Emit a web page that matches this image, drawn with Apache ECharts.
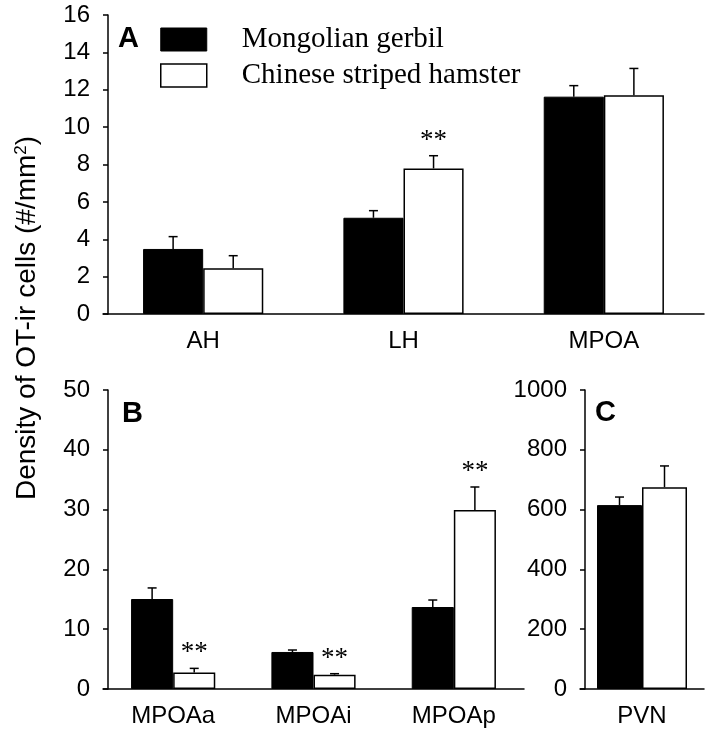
<!DOCTYPE html>
<html><head><meta charset="utf-8">
<script src="https://cdn.jsdelivr.net/npm/echarts@6/dist/echarts.min.js"></script>
<style>html,body{margin:0;padding:0;background:#fff}#c{width:710px;height:736px}</style>
</head><body><div id="c"></div>
<script>
// Panel A
const catsA = ["AH", "LH", "MPOA"];
const gerbilA = [3.48, 5.15, 11.63];
const gerbilAErr = [0.66, 0.38, 0.59];
const hamsterA = [2.45, 7.79, 11.70];
const hamsterAErr = [0.67, 0.68, 1.44];
const sigGerbilA = ["", "", ""];
const sigHamsterA = ["", "**", ""];
// Panel B
const catsB = ["MPOAa", "MPOAi", "MPOAp"];
const gerbilB = [15.05, 6.19, 13.71];
const gerbilBErr = [1.85, 0.33, 1.17];
const hamsterB = [2.78, 2.40, 29.93];
const hamsterBErr = [0.67, 0.16, 3.85];
const sigGerbilB = ["", "", ""];
const sigHamsterB = ["**", "**", "**"];
// Panel C
const catsC = ["PVN"];
const gerbilC = [615];
const gerbilCErr = [27];
const hamsterC = [675];
const hamsterCErr = [71];
const sigGerbilC = [""];
const sigHamsterC = [""];
// axis ranges
const yA = [0, 16, 2];
const yB = [0, 50, 10];
const yC = [0, 1000, 200];
const seriesNames = ["Mongolian gerbil", "Chinese striped hamster"];
const panelLetters = ["A", "B", "C"];
const yTitle = "Density of OT-ir cells (#/mm{sup|2})";

const chart = echarts.init(document.getElementById('c'));
const FONT = 'Arial, "Liberation Sans", sans-serif';

function xAxis(cats, gi) {
  return {type: 'category', gridIndex: gi, data: cats,
    axisLine: {lineStyle: {color: '#000', width: 1.5}},
    axisTick: {show: false},
    axisLabel: {color: '#000', fontSize: 24, fontFamily: FONT, margin: 15}};
}
function yAxis(r, gi) {
  return {type: 'value', gridIndex: gi, min: r[0], max: r[1], interval: r[2], offset: -5,
    axisLine: {show: true, lineStyle: {color: '#000', width: 1.5}},
    axisTick: {show: true, inside: false, length: 5, lineStyle: {color: '#000', width: 1.5}},
    splitLine: {show: false},
    axisLabel: {color: '#000', fontSize: 24, fontFamily: FONT, margin: 18, formatter: v => String(v)}};
}
function errRender(barW, side, sig) {
  return function (params, api) {
    const i = api.value(0), v = api.value(1), e = api.value(2);
    const base = api.coord([i, v]);
    const top = api.coord([i, v + e]);
    const bw = barW != null ? barW : api.size([1, 0])[0] * 0.3;
    const x = base[0] + side * bw / 2;
    const children = [
      {type: 'line', shape: {x1: x, y1: base[1], x2: x, y2: top[1]}, style: {stroke: '#000', lineWidth: 1.5}},
      {type: 'line', shape: {x1: x - 4.5, y1: top[1], x2: x + 4.5, y2: top[1]}, style: {stroke: '#000', lineWidth: 1.5}}
    ];
    const s = sig[params.dataIndex];
    if (s) children.push({type: 'text', style: {text: s, x: x, y: top[1] - 15, align: 'center', verticalAlign: 'middle',
      fontSize: 27, fontFamily: '"Liberation Serif", serif', fill: '#000'}});
    return {type: 'group', children: children};
  };
}
function errData(vals, errs) { return vals.map((v, i) => [i, v, errs[i]]); }

const blackStyle = {color: '#000', borderColor: '#000', borderWidth: 1};
const whiteStyle = {color: '#fff', borderColor: '#000', borderWidth: 1.5};

function panelSeries(gi, g, gE, h, hE, sg, sh, barW) {
  const common = {type: 'bar', xAxisIndex: gi, yAxisIndex: gi, barGap: '0%', barCategoryGap: '40%', animation: false};
  if (barW != null) common.barWidth = barW;
  return [
    Object.assign({}, common, {name: seriesNames[0], data: g, itemStyle: blackStyle}),
    Object.assign({}, common, {name: seriesNames[1], data: h, itemStyle: whiteStyle}),
    {type: 'custom', name: 'errG' + gi, xAxisIndex: gi, yAxisIndex: gi, z: 5, animation: false,
      renderItem: errRender(barW, -1, sg), data: errData(g, gE)},
    {type: 'custom', name: 'errH' + gi, xAxisIndex: gi, yAxisIndex: gi, z: 5, animation: false,
      renderItem: errRender(barW, 1, sh), data: errData(h, hE)}
  ];
}

const letterStyle = {fontSize: 29, fontWeight: 'bold', fontFamily: FONT, fill: '#000'};

chart.setOption({
  animation: false,
  backgroundColor: '#fff',
  grid: [
    {left: 103, top: 15, width: 601, height: 299},
    {left: 103, top: 390, width: 421, height: 299},
    {left: 580, top: 390, width: 124, height: 299}
  ],
  xAxis: [xAxis(catsA, 0), xAxis(catsB, 1), xAxis(catsC, 2)],
  yAxis: [yAxis(yA, 0), yAxis(yB, 1), yAxis(yC, 2)],
  legend: {
    left: 160, top: 25, padding: 0, orient: 'vertical', itemWidth: 46, itemHeight: 23, itemGap: 7, icon: 'rect',
    selectedMode: false,
    textStyle: {fontFamily: '"Liberation Serif", serif', fontSize: 29, color: '#000', padding: [0, 0, 0, 30]},
    data: [
      {name: seriesNames[0], itemStyle: {color: '#000', borderColor: '#000', borderWidth: 1}},
      {name: seriesNames[1], itemStyle: {color: '#fff', borderColor: '#000', borderWidth: 1.5}}
    ]
  },
  graphic: [
    {type: 'text', x: 118, y: 24, style: Object.assign({text: panelLetters[0]}, letterStyle)},
    {type: 'text', x: 122, y: 399, style: Object.assign({text: panelLetters[1]}, letterStyle)},
    {type: 'text', x: 595, y: 398, style: Object.assign({text: panelLetters[2]}, letterStyle)},
    {type: 'text', x: 27, y: 318, rotation: Math.PI / 2,
      style: {text: yTitle, align: 'center', verticalAlign: 'middle', fontSize: 28, fontFamily: FONT, fill: '#000',
        rich: {sup: {fontSize: 17, fontFamily: FONT, verticalAlign: 'top', fill: '#000'}}}}
  ],
  series: [].concat(
    panelSeries(0, gerbilA, gerbilAErr, hamsterA, hamsterAErr, sigGerbilA, sigHamsterA, null),
    panelSeries(1, gerbilB, gerbilBErr, hamsterB, hamsterBErr, sigGerbilB, sigHamsterB, null),
    panelSeries(2, gerbilC, gerbilCErr, hamsterC, hamsterCErr, sigGerbilC, sigHamsterC, 45)
  )
});
</script></body></html>
